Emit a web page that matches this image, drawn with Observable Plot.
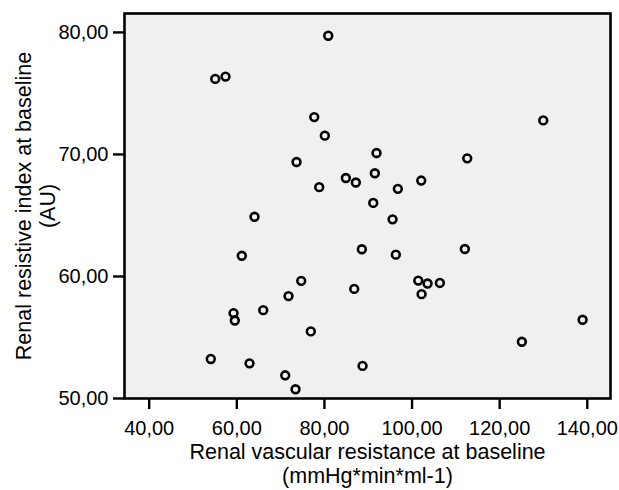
<!DOCTYPE html>
<html>
<head>
<meta charset="utf-8">
<script src="https://cdn.jsdelivr.net/npm/d3@7"></script>
<script src="https://cdn.jsdelivr.net/npm/@observablehq/plot@0.6"></script>
<style>
  html, body { margin: 0; padding: 0; background: #ffffff; }
</style>
</head>
<body>
<div id="chart"></div>
<script>
// Renal vascular resistance at baseline (mmHg*min*ml-1)
const rvr = [80.87, 55.07, 57.42, 77.67, 80.09, 73.63, 78.81, 64.04, 61.14, 91.89,
             112.6, 84.89, 87.17, 91.51, 96.76, 102.1, 91.14, 95.55, 88.54, 96.30,
             112.05, 74.70, 71.80, 59.25, 59.54, 66.03, 76.89, 54.06, 62.90, 71.05,
             73.40, 86.80, 101.42, 103.54, 106.35, 102.17, 88.70, 129.95, 138.93, 125.07];
// Renal resistive index at baseline (AU)
const rri = [79.73, 76.19, 76.38, 73.06, 71.54, 69.38, 67.32, 64.89, 61.70, 70.12,
             69.68, 68.07, 67.70, 68.46, 67.18, 67.86, 66.03, 64.68, 62.23, 61.79,
             62.25, 59.64, 58.39, 57.00, 56.39, 57.24, 55.50, 53.24, 52.88, 51.90,
             50.76, 58.98, 59.66, 59.42, 59.47, 58.55, 52.67, 72.79, 56.45, 54.65];
const xTicks = [40, 60, 80, 100, 120, 140];
const yTicks = [50, 60, 70, 80];
const xTitle = "Renal vascular resistance at baseline\n(mmHg*min*ml-1)";
const yTitle = "Renal resistive index at baseline\n(AU)";

const points = rvr.map((x, i) => ({x, y: rri[i]}));
const fmt = d => d.toFixed(2).replace(".", ",");

const chart = Plot.plot({
  width: 619,
  height: 490,
  marginLeft: 124,
  marginRight: 9,
  marginTop: 13,
  marginBottom: 92,
  style: {fontFamily: "'Liberation Sans', Arial, Helvetica, sans-serif", fontSize: "20px", color: "#000", background: "#fff"},
  x: {domain: [34.36, 145.3]},
  y: {domain: [50, 81.55]},
  marks: [
    Plot.frame({fill: "#f0f0f0", stroke: null}),
    Plot.dot(points, {x: "x", y: "y", r: 3.9, stroke: "#000", strokeWidth: 2.6, fill: "none"}),
    Plot.frame({stroke: "#000", strokeWidth: 2.6, fill: null}),
    Plot.axisX({ticks: xTicks, tickFormat: fmt, tickSize: 11, tickPadding: 11, strokeWidth: 2.4, label: null, fontSize: 20}),
    Plot.axisY({ticks: yTicks, tickFormat: fmt, tickSize: 11, tickPadding: 5, strokeWidth: 2.4, label: null, fontSize: 20}),
    Plot.text([xTitle], {frameAnchor: "bottom", dy: 64.5, textAnchor: "middle", lineAnchor: "middle", lineHeight: 1.16, fontSize: 21.5, fill: "#000"}),
    Plot.text([yTitle], {frameAnchor: "left", dx: -89, rotate: -90, textAnchor: "middle", lineAnchor: "middle", lineHeight: 1.116, fontSize: 21.5, fill: "#000"})
  ]
});
document.getElementById("chart").appendChild(chart);
</script>
</body>
</html>
